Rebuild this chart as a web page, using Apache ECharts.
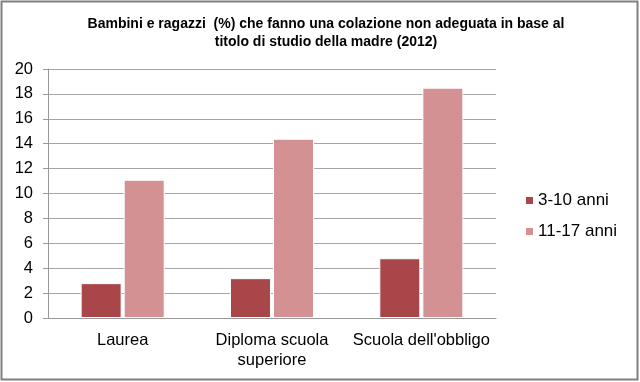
<!DOCTYPE html>
<html><head><meta charset="utf-8">
<script src="https://cdn.jsdelivr.net/npm/echarts@6/dist/echarts.min.js"></script>
<style>html,body{margin:0;padding:0;background:#fff}#c{width:640px;height:382px}</style>
</head><body><div id="c"></div>
<script>
const categories = ['Laurea', 'Diploma scuola\nsuperiore', "Scuola dell'obbligo"];
const series1Name = '3-10 anni';
const series1 = [2.8, 3.2, 4.8];
const series2Name = '11-17 anni';
const series2 = [11.1, 14.4, 18.5];
const titleText = 'Bambini e ragazzi  (%) che fanno una colazione non adeguata in base al\ntitolo di studio della madre (2012)';

const chart = echarts.init(document.getElementById('c'), null, {renderer: 'canvas'});
const font = 'Arial, "Liberation Sans", sans-serif';
chart.setOption({
  animation: false,
  title: {
    text: titleText, left: 321, top: 10, textAlign: 'center',
    textStyle: {fontFamily: font, fontSize: 14, fontWeight: 'bold', color: '#000', lineHeight: 18}
  },
  graphic: [{
    type: 'rect', shape: {x: 1.5, y: 1.5, width: 636, height: 378},
    style: {fill: 'none', stroke: '#808080', lineWidth: 2}, silent: true, z: 100
  }],
  legend: {
    orient: 'vertical', left: 519, top: 187, itemWidth: 9, itemHeight: 9, itemGap: 14,
    icon: 'rect',
    textStyle: {fontFamily: font, fontSize: 17, color: '#000', lineHeight: 17, padding: [0, 0, 0, -1]},
    data: [series1Name, series2Name]
  },
  grid: {left: 48, right: 144, top: 69, bottom: 64, containLabel: false},
  xAxis: {
    type: 'category', data: categories,
    axisLine: {lineStyle: {color: '#999', width: 1}},
    axisTick: {show: false},
    axisLabel: {fontFamily: font, fontSize: 16.5, color: '#000', margin: 12, lineHeight: 20, interval: 0}
  },
  yAxis: {
    type: 'value', min: 0, max: 20, interval: 2,
    axisLine: {show: true, lineStyle: {color: '#999'}},
    axisTick: {show: true, inside: false, length: 5, lineStyle: {color: '#999'}},
    splitLine: {lineStyle: {color: '#a6a6a6', width: 1}},
    axisLabel: {fontFamily: font, fontSize: 16.5, color: '#000', margin: 15}
  },
  series: [
    {name: series1Name, type: 'bar', data: series1, barWidth: 41, barGap: '5%',
     itemStyle: {color: '#A9464A', borderColor: '#fff', borderWidth: 1}},
    {name: series2Name, type: 'bar', data: series2, barWidth: 41,
     itemStyle: {color: '#D49193', borderColor: '#fff', borderWidth: 1}}
  ]
});
</script></body></html>
